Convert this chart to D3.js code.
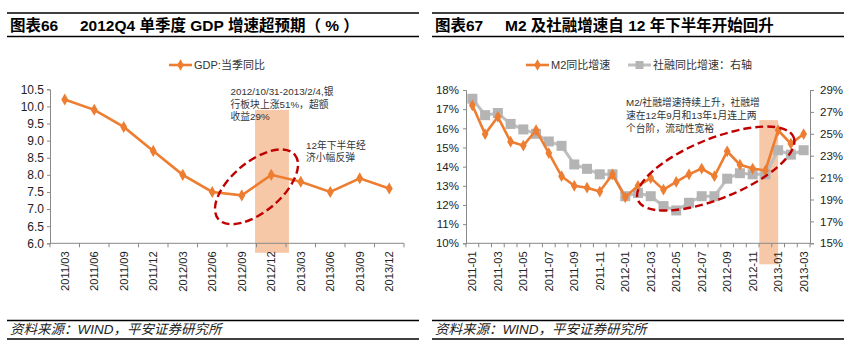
<!DOCTYPE html>
<html lang="zh">
<head>
<meta charset="UTF-8">
<title>GDP 与 M2 社融</title>
<script src="https://d3js.org/d3.v7.min.js"></script>
<style>
  body { margin: 0; background: #fff; }
  svg { display: block; font-family: "Liberation Sans", Arial, "Noto Sans CJK SC", sans-serif; }
  .title { font-size: 15.5px; font-weight: bold; fill: #000; }
  .src { font-size: 13.5px; font-style: italic; fill: #222; }
  .tick text { fill: #222; }
  .note { font-size: 9.8px; fill: #333; font-family: "Liberation Sans", "Noto Sans CJK SC", sans-serif; }
  .legend { font-size: 11px; fill: #333; }
</style>
</head>
<body>
<svg id="chart" width="852" height="350"></svg>
<script>
// ---- data: left chart (GDP quarterly yoy, %)
const gdpQuarters = ["2011/03", "2011/06", "2011/09", "2011/12", "2012/03", "2012/06",
                     "2012/09", "2012/12", "2013/03", "2013/06", "2013/09", "2013/12"];
const gdpValues = [10.2, 9.9, 9.4, 8.7, 8.0, 7.5, 7.4, 8.0, 7.8, 7.5, 7.9, 7.6];
const gdpTicks = [6.0, 6.5, 7.0, 7.5, 8.0, 8.5, 9.0, 9.5, 10.0, 10.5];

// ---- data: right chart (M2 and social financing yoy, %)
const months = ["2011-01", "2011-02", "2011-03", "2011-04", "2011-05", "2011-06", "2011-07",
                "2011-08", "2011-09", "2011-10", "2011-11", "2011-12", "2012-01", "2012-02",
                "2012-03", "2012-04", "2012-05", "2012-06", "2012-07", "2012-08", "2012-09",
                "2012-10", "2012-11", "2012-12", "2013-01", "2013-02", "2013-03"];
const m2Values = [17.2, 15.7, 16.6, 15.3, 15.1, 15.9, 14.7, 13.5, 13.0, 12.9, 12.7, 13.6, 12.4, 13.0,
                  13.4, 12.8, 13.2, 13.6, 13.9, 13.5, 14.8, 14.1, 13.9, 13.8, 15.9, 15.2, 15.7];
const sfValues = [28.2, 26.7, 26.9, 25.9, 25.4, 25.0, 24.3, 23.9, 22.2, 21.8, 21.3, 21.3, 19.3, 19.6,
                  19.3, 18.4, 18.0, 18.7, 19.3, 19.3, 20.9, 21.4, 21.3, 21.3, 23.5, 23.1, 23.5];
const leftTicksPct = [10, 11, 12, 13, 14, 15, 16, 17, 18];
const rightTicksPct = [15, 17, 19, 21, 23, 25, 27, 29];

const ORANGE = "#ED7D31", GRAY = "#BFBFBF", GRAY_MK = "#B4B4B4", RED = "#C00000", SHADE = "#F4B183";

const svg = d3.select("#chart");

// ---- frame: titles and sources
function frame(x0, x1, label, title) {
  const g = svg.append("g");
  [13, 36.5, 320.5, 339].forEach(y => {
    g.append("line").attr("x1", x0).attr("x2", x1).attr("y1", y).attr("y2", y)
      .attr("stroke", "#000").attr("stroke-width", 1.4);
  });
  g.append("text").attr("class", "title").attr("x", x0 + 3).attr("y", 31).text(label);
  g.append("text").attr("class", "title").attr("x", x0 + 73).attr("y", 31)
    .attr("xml:space", "preserve").style("white-space", "pre").text(title);
  g.append("text").attr("class", "src").attr("x", x0 + 3).attr("y", 334)
    .text("资料来源：WIND，平安证券研究所");
}
frame(7, 419, "图表66", "2012Q4 单季度 GDP 增速超预期（ % ）");
frame(432, 844, "图表67", "M2 及社融增速自 12 年下半年开始回升");

function bottomTicks(g, x, cats, y0, every) {
  const bw = x.bandwidth();
  g.append("line").attr("x1", x.range()[0]).attr("x2", x.range()[1]).attr("y1", y0).attr("y2", y0)
    .attr("stroke", "#898989");
  cats.concat([null]).forEach((c, i) => {
    const px = c === null ? x.range()[1] : x(c);
    g.append("line").attr("x1", px).attr("x2", px).attr("y1", y0).attr("y2", y0 + 4)
      .attr("stroke", "#898989");
  });
  cats.forEach((c, i) => {
    if (i % every) return;
    const px = x(c) + bw / 2 + 4;
    g.append("text").attr("transform", `translate(${px},${y0 + 8}) rotate(-90)`)
      .attr("text-anchor", "end").attr("font-size", 11.2).attr("fill", "#222").text(c);
  });
}

function styleAxis(sel) {
  sel.select(".domain").attr("stroke", "#898989");
  sel.selectAll(".tick line").attr("stroke", "#898989");
}

// ================= left chart =================
{
  const g = svg.append("g");
  const x = d3.scaleBand().domain(gdpQuarters).range([50, 404]);
  const xi = d3.scaleLinear().domain([-0.5, gdpQuarters.length - 0.5]).range([50, 404]);
  const y = d3.scaleLinear().domain([6, 10.5]).range([243.3, 89.3]);
  const cx = d => x(d) + x.bandwidth() / 2;

  // shaded period 2012/10/31 - 2013/2/4
  g.append("rect").attr("x", xi(6.45)).attr("width", xi(7.6) - xi(6.45))
    .attr("y", y(9.9)).attr("height", y(6.0) - y(9.9) + 9.5)
    .attr("fill", SHADE).attr("opacity", 0.7);

  const ax = g.append("g").attr("transform", "translate(50,0)")
    .call(d3.axisLeft(y).tickValues(gdpTicks).tickFormat(d3.format(".1f")).tickSize(3).tickPadding(3));
  ax.selectAll("text").attr("font-size", 12);
  styleAxis(ax);
  bottomTicks(g, x, gdpQuarters, 243.3, 1);

  const pts = gdpQuarters.map((c, i) => [cx(c), y(gdpValues[i])]);
  g.append("path").attr("d", d3.line()(pts)).attr("fill", "none")
    .attr("stroke", ORANGE).attr("stroke-width", 2.6);
  g.selectAll(".gdp").data(pts).join("path")
    .attr("transform", d => `translate(${d[0]},${d[1]})`)
    .attr("d", d3.symbol(d3.symbolDiamond, 42)).attr("fill", ORANGE);

  // annotation ellipse
  g.append("ellipse").attr("cx", xi(6.5)).attr("cy", y(7.65)).attr("rx", 50).attr("ry", 25)
    .attr("transform", `rotate(-40,${xi(6.5)},${y(7.65)})`)
    .attr("fill", "none").attr("stroke", RED).attr("stroke-width", 2.4).attr("stroke-dasharray", "8,4");

  const n1 = g.append("text").attr("class", "note");
  ["2012/10/31-2013/2/4,银", "行板块上涨51%，超额", "收益29%"].forEach((t, i) =>
    n1.append("tspan").attr("x", 230.5).attr("y", 95 + i * 12.7).text(t));
  const n2 = g.append("text").attr("class", "note");
  ["12年下半年经", "济小幅反弹"].forEach((t, i) =>
    n2.append("tspan").attr("x", 306).attr("y", 148.5 + i * 12.7).text(t));

  // legend
  const lg = g.append("g").attr("transform", "translate(169,65)");
  lg.append("line").attr("x1", 0).attr("x2", 23).attr("stroke", ORANGE).attr("stroke-width", 2.6);
  lg.append("path").attr("transform", "translate(11.5,0)").attr("d", d3.symbol(d3.symbolDiamond, 38)).attr("fill", ORANGE);
  lg.append("text").attr("class", "legend").attr("x", 25).attr("y", 4).text("GDP:当季同比");
}

// ================= right chart =================
{
  const g = svg.append("g");
  const x = d3.scaleBand().domain(months).range([466, 810]);
  const xi = d3.scaleLinear().domain([-0.5, months.length - 0.5]).range([466, 810]);
  const yL = d3.scaleLinear().domain([10, 18]).range([243.3, 90]);
  const yR = d3.scaleLinear().domain([15, 29]).range([243.3, 90]);
  const cx = d => x(d) + x.bandwidth() / 2;

  // shaded period
  g.append("rect").attr("x", xi(22.52)).attr("width", xi(24.0) - xi(22.52))
    .attr("y", yL(16.43)).attr("height", yL(10) - yL(16.43) + 21)
    .attr("fill", SHADE).attr("opacity", 0.7);

  const axL = g.append("g").attr("transform", "translate(466,0)")
    .call(d3.axisLeft(yL).tickValues(leftTicksPct).tickFormat(d => d + "%").tickSize(3).tickPadding(4));
  axL.selectAll("text").attr("font-size", 11.5);
  styleAxis(axL);
  const axR = g.append("g").attr("transform", "translate(810,0)")
    .call(d3.axisRight(yR).tickValues(rightTicksPct).tickFormat(d => d + "%").tickSize(4).tickPadding(6));
  axR.selectAll("text").attr("font-size", 11.5);
  styleAxis(axR);
  bottomTicks(g, x, months, 243.3, 2);

  const sfPts = months.map((c, i) => [cx(c), yR(sfValues[i])]);
  g.append("path").attr("d", d3.line()(sfPts)).attr("fill", "none")
    .attr("stroke", GRAY).attr("stroke-width", 3);
  g.selectAll(".sf").data(sfPts).join("rect")
    .attr("x", d => d[0] - 5).attr("y", d => d[1] - 5).attr("width", 10).attr("height", 10)
    .attr("fill", GRAY_MK);

  const m2Pts = months.map((c, i) => [cx(c), yL(m2Values[i])]);
  g.append("path").attr("d", d3.line()(m2Pts)).attr("fill", "none")
    .attr("stroke", ORANGE).attr("stroke-width", 2.6);
  g.selectAll(".m2").data(m2Pts).join("path")
    .attr("transform", d => `translate(${d[0]},${d[1]})`)
    .attr("d", d3.symbol(d3.symbolDiamond, 40)).attr("fill", ORANGE);

  // annotation ellipse
  const ex = xi(19.1), ey = yL(13.9);
  g.append("ellipse").attr("cx", ex).attr("cy", ey).attr("rx", 84).attr("ry", 30)
    .attr("transform", `rotate(-22,${ex},${ey})`)
    .attr("fill", "none").attr("stroke", RED).attr("stroke-width", 2.4).attr("stroke-dasharray", "8,4");

  const n = g.append("text").attr("class", "note");
  ["M2/社融增速持续上升，社融增", "速在12年9月和13年1月连上两", "个台阶，流动性宽裕"].forEach((t, i) =>
    n.append("tspan").attr("x", 626).attr("y", 106 + i * 12.8).text(t));

  // legend
  const lg = g.append("g").attr("transform", "translate(526,65)");
  lg.append("line").attr("x1", 0).attr("x2", 23).attr("stroke", ORANGE).attr("stroke-width", 2.6);
  lg.append("path").attr("transform", "translate(11.5,0)").attr("d", d3.symbol(d3.symbolDiamond, 38)).attr("fill", ORANGE);
  lg.append("text").attr("class", "legend").attr("x", 25).attr("y", 4).text("M2同比增速");
  const lg2 = g.append("g").attr("transform", "translate(628,65)");
  lg2.append("line").attr("x1", 0).attr("x2", 23).attr("stroke", GRAY).attr("stroke-width", 3);
  lg2.append("rect").attr("x", 7.5).attr("y", -4).attr("width", 8).attr("height", 8).attr("fill", GRAY_MK);
  lg2.append("text").attr("class", "legend").attr("x", 25).attr("y", 4).text("社融同比增速：右轴");
}
</script>
</body>
</html>
